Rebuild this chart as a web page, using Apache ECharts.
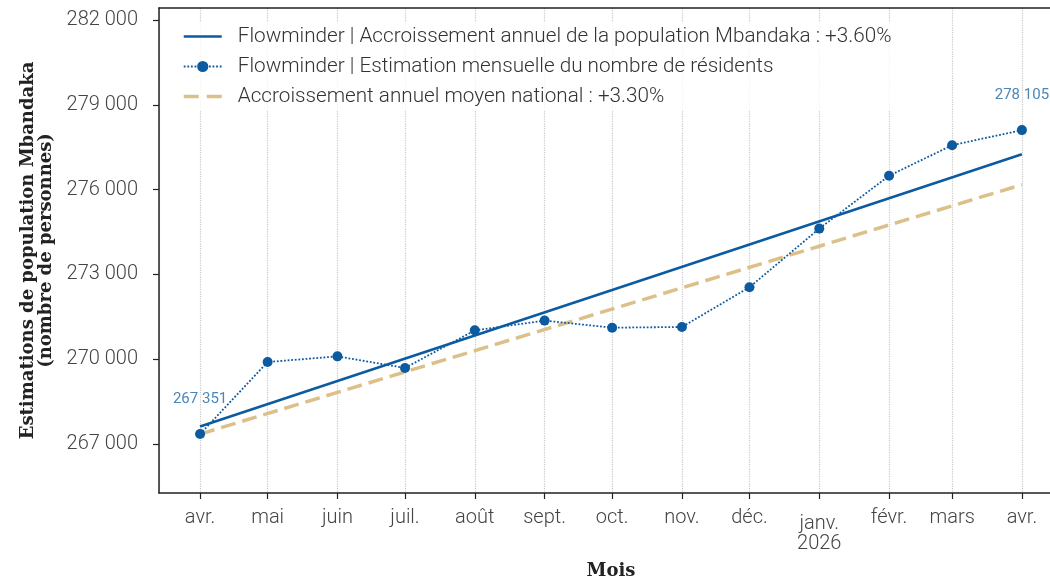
<!DOCTYPE html>
<html>
<head>
<meta charset="utf-8">
<script src="https://cdn.jsdelivr.net/npm/echarts@6/dist/echarts.min.js"></script>
<style>
html,body{margin:0;padding:0;background:#fff;}
#chart{width:1050px;height:580px;}
</style>
</head>
<body>
<div id="chart"></div>
<script>
// ---- data ----
const months = ['2025-04-01','2025-05-01','2025-06-01','2025-07-01','2025-08-01','2025-09-01','2025-10-01','2025-11-01','2025-12-01','2026-01-01','2026-02-01','2026-03-01','2026-04-01'];
const monthlyEstimates = [267351, 269900, 270100, 269690, 271020, 271365, 271115, 271140, 272545, 274620, 276490, 277570, 278105];
const trendDates = ['2025-04-01', '2026-04-01'];
const mbandakaTrend = [267620, 277250];
const nationalTrend = [267351, 276174];
const monthLabels = ['janv.','févr.','mars','avr.','mai','juin','juil.','août','sept.','oct.','nov.','déc.'];
const yTicks = [267000, 270000, 273000, 276000, 279000, 282000];
const legendNames = [
  'Flowminder | Accroissement annuel de la population Mbandaka : +3.60%',
  'Flowminder | Estimation mensuelle du nombre de résidents',
  'Accroissement annuel moyen national : +3.30%'
];

const DAY = 86400000;
const t0 = new Date(2025, 3, 1).getTime();
const t1 = new Date(2026, 3, 1).getTime();
const pad = (t1 - t0) * 0.05;

function fmtThousands(v) {
  return String(v).replace(/\B(?=(\d{3})+(?!\d))/g, ' ');
}

const chart = echarts.init(document.getElementById('chart'), null, {renderer: 'canvas'});
const tickFont = {fontFamily: 'Roboto', fontWeight: 300, fontSize: 20, color: '#444'};
const titleFont = {fontFamily: 'DejaVu Serif', fontWeight: 'bold', fontSize: 18, color: '#222'};
const BLUE = '#0c5aa0';
const TAN = '#dcc08a';

chart.setOption({
  animation: false,
  backgroundColor: '#fff',
  grid: {left: 159, right: -13, top: 8, bottom: 87, outerBoundsMode: 'none', containLabel: false, show: false},
  legend: {
    left: 176, top: 22, orient: 'vertical',
    itemWidth: 38, itemHeight: 14, itemGap: 9,
    backgroundColor: 'rgba(255,255,255,0.8)',
    padding: [4, 8, 4, 6],
    textStyle: {fontFamily: 'Roboto', fontWeight: 300, fontSize: 20.7, color: '#333', padding: [0, 0, 0, 11]},
    data: [
      {name: legendNames[0], itemStyle: {opacity: 0}, lineStyle: {width: 2.5, color: BLUE}},
      {name: legendNames[1], lineStyle: {width: 1.8, color: BLUE, type: 'dotted'}},
      {name: legendNames[2], itemStyle: {opacity: 0}, lineStyle: {width: 3.5, color: TAN, type: [15, 8]}}
    ]
  },
  xAxis: [{
    type: 'time',
    min: t0 - pad, max: t1 + pad,
    minInterval: 28 * DAY, maxInterval: 31 * DAY,
    splitNumber: 13,
    name: 'Mois', nameLocation: 'middle', nameGap: 66,
    nameTextStyle: titleFont,
    axisLine: {lineStyle: {color: '#222', width: 1.5}},
    axisTick: {show: true, length: 6, lineStyle: {color: '#222', width: 1.2}},
    axisLabel: Object.assign({}, tickFont, {
      margin: 12, lineHeight: 26, hideOverlap: false,
      formatter: function (v) {
        const d = new Date(v);
        const m = d.getMonth();
        if (m === 0) return '{j|janv.}\n' + d.getFullYear();
        return monthLabels[m];
      },
      rich: {j: {fontFamily: 'Roboto', fontWeight: 300, fontSize: 20, color: '#444', padding: [12, 0, 0, 0]}}
    }),
    splitLine: {show: true, lineStyle: {color: '#c8c8c8', type: 'dotted', width: 1.2}},
    minorTick: {show: false}
  }, {
    type: 'value', position: 'top', min: 0, max: 1,
    axisLine: {show: true, lineStyle: {color: '#222', width: 1.5}},
    axisTick: {show: false}, axisLabel: {show: false}, splitLine: {show: false}
  }],
  yAxis: {
    type: 'value',
    min: 265266, max: 282425,
    name: 'Estimations de population Mbandaka\n(nombre de personnes)',
    nameLocation: 'middle', nameGap: 100,
    nameTextStyle: Object.assign({}, titleFont, {lineHeight: 18}),
    axisLine: {show: true, lineStyle: {color: '#222', width: 1.5}},
    axisTick: {show: true, length: 6, lineStyle: {color: '#222', width: 1.2}, customValues: yTicks},
    axisLabel: Object.assign({}, tickFont, {margin: 21, customValues: yTicks, formatter: v => fmtThousands(v)}),
    splitLine: {show: false}
  },
  series: [
    {
      name: legendNames[0], type: 'line', z: 3,
      data: trendDates.map((d, i) => [d, mbandakaTrend[i]]),
      showSymbol: false, symbol: 'none',
      lineStyle: {color: BLUE, width: 2.5},
      itemStyle: {color: BLUE}
    },
    {
      name: legendNames[1], type: 'line', z: 4,
      data: months.map((d, i) => [d, monthlyEstimates[i]]),
      symbol: 'circle', symbolSize: 10, showSymbol: true,
      lineStyle: {color: BLUE, width: 1.8, type: 'dotted'},
      itemStyle: {color: BLUE},
      label: {
        show: true, position: 'top', distance: 22,
        fontFamily: 'Roboto', fontSize: 15, color: '#4a86b8',
        formatter: function (p) {
          return (p.dataIndex === 0 || p.dataIndex === months.length - 1) ? fmtThousands(p.value[1]) : '';
        }
      }
    },
    {
      name: legendNames[2], type: 'line', z: 2,
      data: trendDates.map((d, i) => [d, nationalTrend[i]]),
      showSymbol: false, symbol: 'none',
      lineStyle: {color: TAN, width: 3.5, type: [15, 7]},
      itemStyle: {color: TAN}
    }
  ]
});
</script>
</body>
</html>
